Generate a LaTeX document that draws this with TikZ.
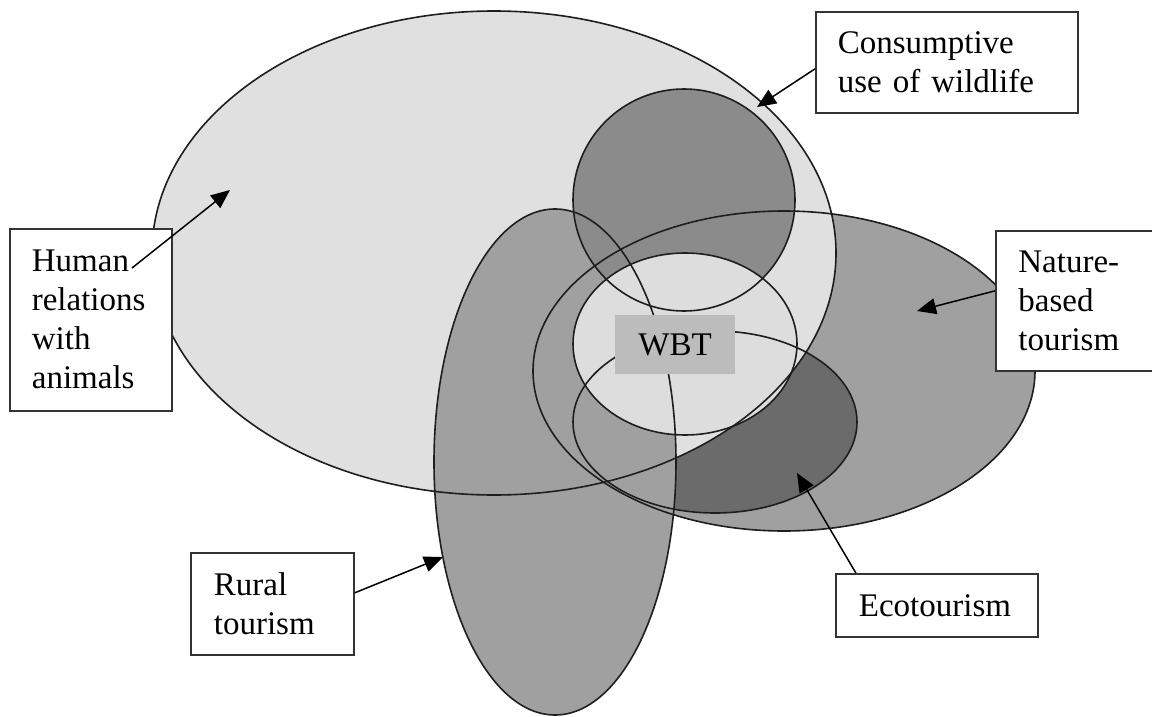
\documentclass[tikz,border=0pt]{standalone}
\usepackage{fontspec}
\setmainfont{Liberation Serif}
\usetikzlibrary{shapes.geometric,arrows.meta}
\definecolor{natg}{HTML}{A0A0A0}
\definecolor{ecog}{HTML}{6B6B6B}
\definecolor{bigg}{HTML}{E0E0E0}
\definecolor{rurg}{HTML}{A0A0A0}
\definecolor{cong}{HTML}{8B8B8B}
\definecolor{inng}{HTML}{DDDDDD}
\definecolor{wbtg}{HTML}{BCBCBC}
\definecolor{rimc}{HTML}{1E1E1E}
\begin{document}
\begin{tikzpicture}[x=1pt,y=-1pt,
  blob/.style={ellipse, inner sep=0pt, outer sep=0pt},
  rim/.style={ellipse, inner sep=0pt, outer sep=0pt, draw=rimc, line width=1.6pt},
  lbl/.style={draw=black!80, line width=1.7pt, fill=white, anchor=north west,
    align=left, inner ysep=0pt, font=\fontsize{33}{39}\selectfont},
  pointer/.style={-{Triangle[length=19pt,width=16pt]}, line width=1.5pt, draw=black}]
\useasboundingbox (0,0) rectangle (1152,717);
% fills, bottom to top
\node[blob, fill=natg, minimum width=502pt, minimum height=320pt] (nat) at (784,371) {};
\node[blob, fill=ecog, minimum width=284pt, minimum height=182pt] (eco) at (715,422) {};
\node[blob, fill=bigg, minimum width=684pt, minimum height=484pt] (big) at (494,253) {};
\node[blob, fill=rurg, minimum width=242pt, minimum height=506pt] (rur) at (555,462) {};
\node[blob, fill=cong, minimum width=222pt, minimum height=222pt] (con) at (684,200) {};
\node[blob, fill=inng, minimum width=224pt, minimum height=182pt] (inn) at (685,344) {};
% outlines on top of all fills
\node[rim, minimum width=502pt, minimum height=320pt] (natrim) at (nat.center) {};
\node[rim, minimum width=284pt, minimum height=182pt] (ecorim) at (eco.center) {};
\node[rim, minimum width=684pt, minimum height=484pt] (bigrim) at (big.center) {};
\node[rim, minimum width=242pt, minimum height=506pt] (rurrim) at (rur.center) {};
\node[rim, minimum width=222pt, minimum height=222pt] (conrim) at (con.center) {};
\node[rim, minimum width=224pt, minimum height=182pt] (innrim) at (inn.center) {};
% WBT box
\node[fill=wbtg, minimum width=120pt, minimum height=59pt, inner sep=0pt,
  font=\fontsize{33}{39}\selectfont] (wbt) at (675,344.5) {WBT};
% label boxes
\node[lbl, minimum width=262pt, minimum height=101pt, text width=218pt, inner xsep=22pt]
  (consbox) at (815,11) {Consumptive\\use of wildlife};
\node[lbl, minimum width=165pt, minimum height=140pt, text width=120pt, inner xsep=22.5pt]
  (natbox) at (995,230) {Nature-\\based\\tourism};
\node[lbl, minimum width=162pt, minimum height=182pt, text width=118pt, inner xsep=22pt]
  (humbox) at (9,228) {Human\\relations\\with\\animals};
\node[lbl, minimum width=163pt, minimum height=102pt, text width=117pt, inner xsep=23pt]
  (rurbox) at (190,552) {Rural\\tourism};
\node[lbl, minimum width=202pt, minimum height=63pt, text width=156pt, inner xsep=23pt]
  (ecobox) at (835,573) {Ecotourism};
% arrow end points
\coordinate (tipcon) at (757,107);
\coordinate (tipnat) at (917,311);
\coordinate (hstart) at (132,268);
\coordinate (tiphum) at (230,190);
\coordinate (tiprur) at (443,557);
\coordinate (tipeco) at (797,473);
% arrows
\draw[pointer] ([yshift=-6.5pt]consbox.west) -- (tipcon);
\draw[pointer] ([yshift=10pt]natbox.west) -- (tipnat);
\draw[pointer] (hstart) -- (tiphum);
\draw[pointer] ([yshift=11pt]rurbox.east) -- (tiprur);
\draw[pointer] ([xshift=-81pt]ecobox.north) -- (tipeco);
\end{tikzpicture}
\end{document}
